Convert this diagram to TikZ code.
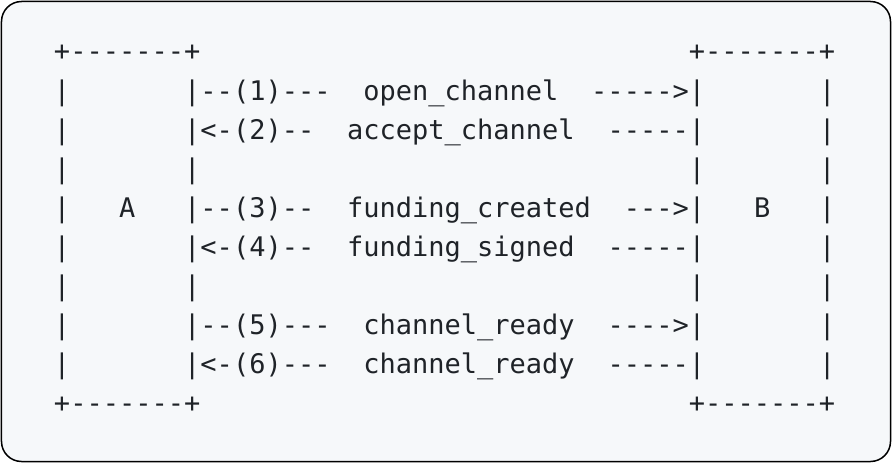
\documentclass[tikz,border=0pt]{standalone}
\usepackage{fontspec}
\setmonofont{DejaVu Sans Mono}
\definecolor{boxbg}{HTML}{F6F8FA}
\definecolor{asciitext}{HTML}{1F2328}

\begin{document}
\begin{tikzpicture}[x=16.28pt, y=-39pt,
    every node/.style={anchor=base west, inner sep=0pt, outer sep=0pt, text=asciitext,
      font=\ttfamily\fontsize{27}{39}\selectfont}]
  \useasboundingbox (-54pt,61pt) rectangle (838pt,-402pt);
  \draw[line width=1.5pt, rounded corners=20pt, fill=boxbg] (-52.5pt,59.5pt) rectangle (836.5pt,-400.5pt);
  % box tops and bottoms
  \node (topA) at (0,0) {+-------+};
  \node (topB) at (39,0) {+-------+};
  \node (botA) at (0,9) {+-------+};
  \node (botB) at (39,9) {+-------+};
  % outer sides
  \foreach \r in {1,...,8} {
    \node (sideA\r) at (0,\r) {|};
    \node (sideB\r) at (47,\r) {|};
  }
  % messages
  \node (out1) at (8,1) {|--(1)---};
  \node (msg1) at (19,1) {open\_channel};
  \node (in1) at (33,1) {----->|};
  \node (out2) at (8,2) {|<-(2)--};
  \node (msg2) at (18,2) {accept\_channel};
  \node (in2) at (34,2) {-----|};
  \node (gapA3) at (8,3) {|};
  \node (gapB3) at (39,3) {|};
  \node (nameA) at (4,4) {A};
  \node (out3) at (8,4) {|--(3)--};
  \node (msg3) at (18,4) {funding\_created};
  \node (in3) at (35,4) {--->|};
  \node (nameB) at (43,4) {B};
  \node (out4) at (8,5) {|<-(4)--};
  \node (msg4) at (18,5) {funding\_signed};
  \node (in4) at (34,5) {-----|};
  \node (gapA6) at (8,6) {|};
  \node (gapB6) at (39,6) {|};
  \node (out5) at (8,7) {|--(5)---};
  \node (msg5) at (19,7) {channel\_ready};
  \node (in5) at (34,7) {---->|};
  \node (out6) at (8,8) {|<-(6)---};
  \node (msg6) at (19,8) {channel\_ready};
  \node (in6) at (34,8) {-----|};
\end{tikzpicture}
\end{document}
